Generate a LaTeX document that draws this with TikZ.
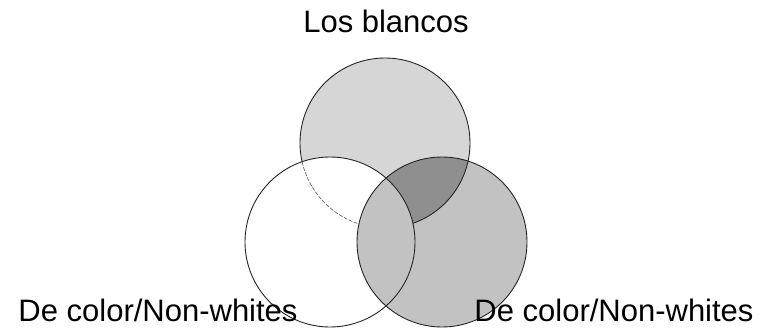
\documentclass[tikz,border=0pt]{standalone}
\usepackage{fontspec}
\setmainfont{Liberation Sans}
\definecolor{toplight}{gray}{0.84}
\definecolor{rightmid}{gray}{0.76}
\definecolor{darkpart}{gray}{0.56}
\begin{document}
\begin{tikzpicture}[x=1pt,y=-1pt,
  lbl/.style={font=\fontsize{31}{37}\selectfont, anchor=base, inner sep=0pt},
  ring/.style={draw=black!85, line width=0.9pt}]
\useasboundingbox (0,0) rectangle (768,329);
\coordinate (T) at (385,143);
\coordinate (L) at (330,242);
\coordinate (R) at (442,242);
\def\rad{85pt}
% fills
\fill[toplight] (T) circle (\rad);
\fill[white] (L) circle (\rad);
\begin{scope}
  \clip (L) circle (\rad);
  \draw[black!60, line width=0.7pt, dash pattern=on 4pt off 1.5pt] (T) circle (\rad);
\end{scope}
\fill[rightmid] (R) circle (\rad);
\begin{scope}
  \clip (T) circle (\rad);
  \clip (R) circle (\rad);
  \fill[darkpart, even odd rule] (0,0) rectangle (768,329) (L) circle (\rad);
\end{scope}
% outlines
\begin{scope}[even odd rule]
  \clip (-10,-10) rectangle (780,340) (L) circle (\rad);
  \draw[ring] (T) circle (\rad);
\end{scope}
\draw[ring] (L) circle (\rad);
\draw[ring] (R) circle (\rad);
% labels
\node[lbl] (top) at (386,33) {Los blancos};
\node[lbl] (left) at (158,321) {De color/Non-whites};
\node[lbl] (right) at (614,321) {De color/Non-whites};
\end{tikzpicture}
\end{document}
